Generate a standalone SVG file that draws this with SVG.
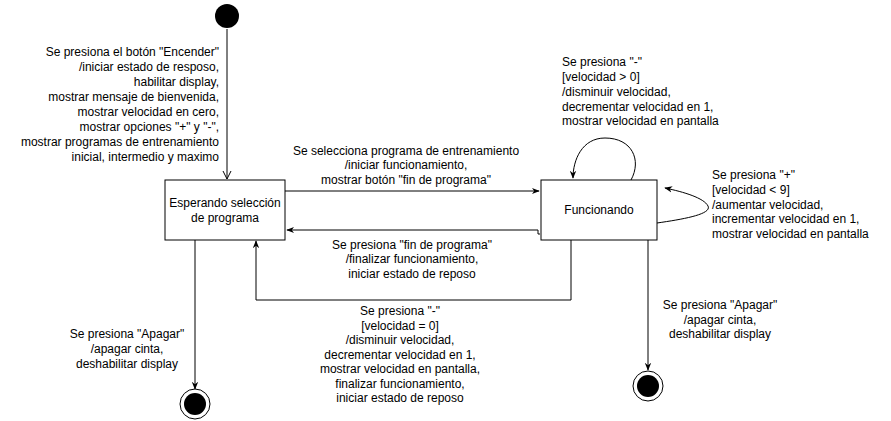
<svg xmlns="http://www.w3.org/2000/svg" width="891" height="421" viewBox="0 0 891 421">
<defs>
<style>
text{font-family:"Liberation Sans",Arial,sans-serif;font-size:12px;fill:#000}
.c{text-anchor:middle}
.r{text-anchor:end}
.st{fill:#fff;stroke:#000;stroke-width:1}
.e{fill:none;stroke:#000;stroke-width:1}
</style>
<marker id="cl" viewBox="0 0 10 10" refX="9" refY="5" markerWidth="8" markerHeight="8" markerUnits="userSpaceOnUse" orient="auto">
<path d="M0,1 L10,5 L0,9 L3,5 Z" fill="#000"/>
</marker>
<marker id="op" viewBox="0 0 10 10" refX="9" refY="5" markerWidth="10" markerHeight="10" markerUnits="userSpaceOnUse" orient="auto">
<path d="M1,1 L9,5 L1,9" fill="none" stroke="#000" stroke-width="1"/>
</marker>
</defs>
<rect width="891" height="421" fill="#fff"/>
<g id="edges">
<path class="e" d="M227,29 L227,179" marker-end="url(#op)"/>
<path class="e" d="M285,191 L539,191" marker-end="url(#cl)"/>
<path class="e" d="M540,234 L538,234 L538,230 L287,230" marker-end="url(#cl)"/>
<path class="e" d="M571,240 L571,300 L256,300 L256,241" marker-end="url(#cl)"/>
<path class="e" d="M631,180 C642,160 632,138 605,138 C582,138 573,160 573,178" marker-end="url(#cl)"/>
<path class="e" d="M657,223 C685,219 712,214 708,206 C704,198 684,192 665,188" marker-end="url(#cl)"/>
<path class="e" d="M195,240 L195,389" marker-end="url(#cl)"/>
<path class="e" d="M648,240 L648,370" marker-end="url(#cl)"/>
</g>
<g id="initial"><circle cx="227" cy="16" r="12" fill="#000"/></g>
<g id="esperando">
<rect class="st" x="165" y="180" width="120" height="60"/>
<text class="c" x="225" y="207">Esperando selección</text>
<text class="c" x="225" y="222">de programa</text>
</g>
<g id="funcionando">
<rect class="st" x="541" y="180" width="116" height="60"/>
<text class="c" x="599" y="214">Funcionando</text>
</g>
<g id="final1">
<circle cx="195" cy="404" r="15" fill="#fff" stroke="#000"/>
<circle cx="195" cy="404" r="11" fill="#000"/>
</g>
<g id="final2">
<circle cx="648" cy="386" r="15" fill="#fff" stroke="#000"/>
<circle cx="648" cy="386" r="11" fill="#000"/>
</g>
<g id="labels">
<text class="r" x="219" y="56">Se presiona el botón "Encender"</text>
<text class="r" x="219" y="71">/iniciar estado de resposo,</text>
<text class="r" x="219" y="86">habilitar display,</text>
<text class="r" x="219" y="101">mostrar mensaje de bienvenida,</text>
<text class="r" x="219" y="116">mostrar velocidad en cero,</text>
<text class="r" x="219" y="131">mostrar opciones "+" y "-",</text>
<text class="r" x="219" y="146">mostrar programas de entrenamiento</text>
<text class="r" x="219" y="161">inicial, intermedio y maximo</text>
<text class="c" x="406" y="155">Se selecciona programa de entrenamiento</text>
<text class="c" x="406" y="169">/iniciar funcionamiento,</text>
<text class="c" x="406" y="184">mostrar botón "fin de programa"</text>
<text class="c" x="412" y="249">Se presiona "fin de programa"</text>
<text class="c" x="412" y="263">/finalizar funcionamiento,</text>
<text class="c" x="412" y="278">iniciar estado de reposo</text>
<text class="c" x="400" y="315">Se presiona "-"</text>
<text class="c" x="400" y="330">[velocidad = 0]</text>
<text class="c" x="400" y="344">/disminuir velocidad,</text>
<text class="c" x="400" y="359">decrementar velocidad en 1,</text>
<text class="c" x="400" y="373">mostrar velocidad en pantalla,</text>
<text class="c" x="400" y="388">finalizar funcionamiento,</text>
<text class="c" x="400" y="402">iniciar estado de reposo</text>
<text x="562" y="66">Se presiona "-"</text>
<text x="562" y="81">[velocidad &gt; 0]</text>
<text x="562" y="96">/disminuir velocidad,</text>
<text x="562" y="111">decrementar velocidad en 1,</text>
<text x="562" y="125">mostrar velocidad en pantalla</text>
<text x="712" y="179">Se presiona "+"</text>
<text x="712" y="194">[velocidad &lt; 9]</text>
<text x="712" y="209">/aumentar velocidad,</text>
<text x="712" y="223">incrementar velocidad en 1,</text>
<text x="712" y="238">mostrar velocidad en pantalla</text>
<text class="c" x="127" y="338">Se presiona "Apagar"</text>
<text class="c" x="127" y="353">/apagar cinta,</text>
<text class="c" x="127" y="368">deshabilitar display</text>
<text class="c" x="720" y="309">Se presiona "Apagar"</text>
<text class="c" x="720" y="324">/apagar cinta,</text>
<text class="c" x="720" y="338">deshabilitar display</text>
</g>
</svg>
